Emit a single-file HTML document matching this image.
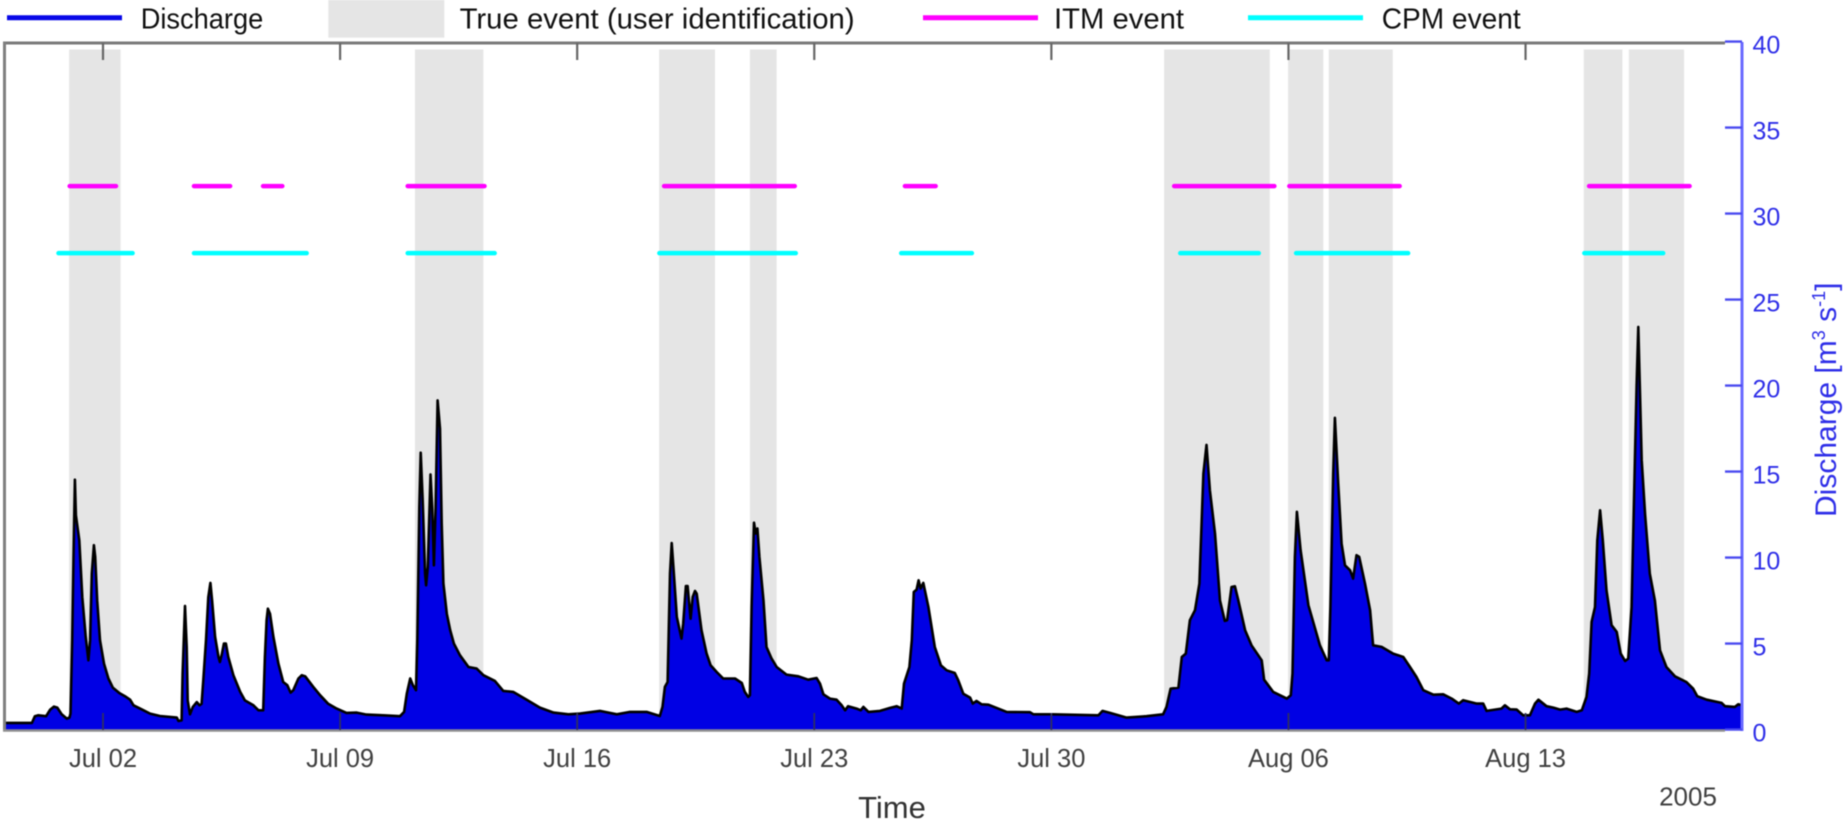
<!DOCTYPE html>
<html lang="en">
<head>
<meta charset="utf-8">
<title>Discharge and event identification, 2005</title>
<style>
html,body{margin:0;padding:0;background:#fff;}
body{width:1843px;height:820px;overflow:hidden;}
svg{display:block;font-family:"Liberation Sans",sans-serif;filter:blur(0.4px);}
</style>
</head>
<body>
<svg id="chart" xmlns="http://www.w3.org/2000/svg" width="1843" height="820" viewBox="0 0 1843 820">
  <g id="bands"></g>
  <path id="area" fill="#0000e4" stroke="none"></path>
  <path id="outline" fill="none" stroke="#000" stroke-width="2.6" stroke-linejoin="round"></path>
  <g id="itm"></g>
  <g id="cpm"></g>

  <line x1="3" y1="43" x2="1725" y2="43" stroke="#7a7a7a" stroke-width="3"></line>
  <line x1="4.5" y1="42" x2="4.5" y2="731" stroke="#808080" stroke-width="3"></line>
  <line x1="3" y1="730.5" x2="1725" y2="730.5" stroke="#8f8f8f" stroke-width="2.5"></line>
  <line x1="1742" y1="42" x2="1742" y2="731" stroke="#6a6aff" stroke-width="3"></line>
  <g id="xticks"></g>
  <g id="yticks"></g>

  <text x="892" y="818" font-size="31" fill="#333" text-anchor="middle">Time</text>
  <text x="1688" y="805.5" font-size="26" fill="#404040" text-anchor="middle">2005</text>
  <text transform="translate(1836,517) rotate(-90)" font-size="30" fill="#2f2fe8">Discharge [m<tspan font-size="18" dy="-11">3</tspan><tspan dy="11"> s</tspan><tspan font-size="18" dy="-11">-1</tspan><tspan dy="11">]</tspan></text>

  <g>
    <line x1="7" y1="17.7" x2="122" y2="17.7" stroke="#0808e8" stroke-width="5"></line>
    <text x="140.7" y="28.5" font-size="29" fill="#111" textLength="122.6" lengthAdjust="spacingAndGlyphs">Discharge</text>
    <rect x="328.3" y="0" width="116" height="37.7" fill="#e5e5e5"></rect>
    <text x="459.6" y="28.5" font-size="29" fill="#111" textLength="395" lengthAdjust="spacingAndGlyphs">True event (user identification)</text>
    <line x1="923" y1="17.7" x2="1038" y2="17.7" stroke="#ff00ff" stroke-width="5"></line>
    <text x="1054" y="28.5" font-size="29" fill="#111" textLength="130" lengthAdjust="spacingAndGlyphs">ITM event</text>
    <line x1="1248" y1="17.7" x2="1363" y2="17.7" stroke="#00ffff" stroke-width="5"></line>
    <text x="1381.7" y="28.5" font-size="29" fill="#111" textLength="139" lengthAdjust="spacingAndGlyphs">CPM event</text>
  </g>
</svg>

<script>
// Time is in days after 1 July 2005 (Jul 02 = 1); discharge is in m3/s.
const xTickDays = [1, 8, 15, 22, 29, 36, 43];
const xTickLabels = ["Jul 02", "Jul 09", "Jul 16", "Jul 23", "Jul 30", "Aug 06", "Aug 13"];
const yTickValues = [0, 5, 10, 15, 20, 25, 30, 35, 40];

const trueEventStarts = [0.00, 10.21, 17.42, 20.10, 32.33, 35.99, 37.19, 44.72, 46.05];
const trueEventEnds = [1.52, 12.23, 19.07, 20.89, 35.45, 37.03, 39.08, 45.86, 47.68];

const itmLevel = 31.6;
const itmStarts = [-0.05, 3.62, 5.66, 9.93, 17.50, 24.61, 32.56, 35.96, 44.81];
const itmEnds = [1.45, 4.82, 6.36, 12.33, 21.49, 25.65, 35.65, 39.35, 47.91];

const cpmLevel = 27.7;
const cpmStarts = [-0.38, 3.62, 9.93, 17.36, 24.50, 32.74, 36.16, 44.67];
const cpmEnds = [1.94, 7.08, 12.63, 21.52, 26.72, 35.19, 39.60, 47.13];

const times = [
-1.90,-1.10,-1.01,-.91,-.68,-.56,-.45,-.35,-.22,-.07,.01,.04,
.09,.13,.17,.20,.30,.39,.49,.57,.62,.67,.73,.77,
.83,.91,1.03,1.16,1.29,1.48,1.65,1.80,1.90,2.14,2.39,2.68,
3.18,3.23,3.32,3.35,3.42,3.47,3.50,3.57,3.65,3.77,3.85,3.91,
3.96,4.04,4.11,4.17,4.22,4.31,4.41,4.45,4.51,4.57,4.63,4.70,
4.85,5.05,5.19,5.44,5.59,5.73,5.78,5.83,5.87,5.93,6.03,6.18,
6.32,6.44,6.54,6.62,6.77,6.87,6.97,7.21,7.41,7.65,7.90,8.19,
8.49,8.78,9.28,9.77,9.89,9.97,10.07,10.15,10.24,10.28,10.34,10.38,
10.44,10.51,10.54,10.59,10.67,10.72,10.77,10.82,10.88,10.95,11.00,11.05,
11.15,11.25,11.36,11.54,11.79,12.03,12.23,12.57,12.82,13.11,13.51,13.90,
14.30,14.74,15.08,15.67,16.17,16.56,17.05,17.44,17.52,17.59,17.67,17.74,
17.79,17.84,17.94,18.08,18.13,18.21,18.26,18.35,18.41,18.48,18.53,18.67,
18.82,18.94,19.12,19.31,19.66,19.86,19.95,20.05,20.10,20.15,20.22,20.27,
20.32,20.38,20.50,20.59,20.74,20.89,21.18,21.53,21.82,22.07,22.17,22.27,
22.46,22.66,22.81,22.91,23.00,23.25,23.37,23.45,23.60,23.94,24.24,24.43,
24.58,24.65,24.81,24.88,24.94,25.02,25.08,25.14,25.22,25.37,25.56,25.74,
25.91,26.15,26.25,26.40,26.60,26.68,26.79,26.94,27.14,27.68,28.37,28.47,
29.01,30.39,30.51,30.73,31.22,31.81,32.30,32.40,32.52,32.75,32.85,32.97,
33.09,33.24,33.37,33.49,33.58,33.68,33.83,33.98,34.12,34.19,34.32,34.42,
34.52,34.72,34.91,35.21,35.28,35.55,35.95,36.07,36.12,36.19,36.25,36.36,
36.59,36.93,37.13,37.19,37.24,37.32,37.37,37.47,37.57,37.67,37.82,37.91,
38.01,38.09,38.26,38.41,38.50,38.75,39.09,39.39,39.59,39.78,39.98,40.28,
40.57,40.82,41.03,41.16,41.56,41.75,41.85,42.29,42.39,42.54,42.74,42.93,
43.13,43.28,43.38,43.62,43.82,44.02,44.21,44.51,44.66,44.80,44.88,44.95,
45.05,45.12,45.20,45.28,45.39,45.54,45.69,45.81,45.94,46.03,46.13,46.23,
46.28,46.33,46.43,46.53,46.67,46.82,46.97,47.16,47.41,47.75,47.95,48.07,
48.35,48.79,48.89,49.18,49.28,49.39
];

const discharge = [
.39,.39,.78,.83,.78,1.16,1.34,1.28,.89,.64,.70,.93,
5.19,10,14.53,12.46,11,7.7,5.4,4.03,5.2,9.07,10.72,10.04,
7.5,5.2,3.84,2.97,2.44,2.13,1.94,1.74,1.41,1.18,.93,.79,
.70,.5,.54,3.26,7.19,4.8,1.7,.89,1.32,1.6,1.41,1.5,
2.87,5.19,7.7,8.53,7.5,5.39,4.22,3.93,4.4,5,5,4.22,
3.16,2.19,1.7,1.41,1.12,1.12,4.2,6.36,7.03,6.74,5.39,3.84,
2.77,2.58,2.15,2.29,2.97,3.16,3.1,2.48,2,1.5,1.22,.97,
.99,.87,.83,.78,1.03,2.09,2.97,2.58,2.29,5.19,12.9,16.1,
13.3,9.07,8.39,9.46,14.84,12.9,9.55,12.9,19.14,17.5,12,8.5,
6.74,5.78,5,4.32,3.64,3.55,3.16,2.83,2.25,2.19,1.74,1.28,
.99,.89,.93,1.09,.89,1.03,1.03,.79,1.32,2.48,2.77,9.07,
10.85,9.46,6.55,5.29,6.16,8.35,8.35,6.45,7.71,8.06,7.9,5.78,
4.42,3.74,3.35,2.97,2.97,2.71,2.19,1.9,2,7.13,12.03,11.4,
11.69,10.04,7.5,4.8,4.13,3.64,3.2,3.1,2.9,3,2.67,2.05,
1.8,1.74,1.41,1.12,1.36,1.22,1.12,1.32,1.03,1.09,1.26,1.36,
1.22,2.67,3.64,5.19,8,8.14,8.68,8.2,8.53,7.13,4.8,3.74,
3.45,3.29,2.87,2.09,1.86,1.51,1.67,1.47,1.45,1.03,1.01,.89,
.89,.83,1.09,.97,.7,.78,.89,1.32,2.38,2.44,4.22,4.42,
6.36,6.94,8.49,14.88,16.55,13.9,11.4,7.5,6.32,6.36,8.29,8.33,
7.52,5.78,4.9,4.03,2.9,2.19,1.8,2,3.26,10.04,12.66,10.43,
7.23,4.9,4.03,4.03,7.13,14.88,18.13,14.3,10.81,9.55,9.26,8.78,
10.14,10.04,8.49,6.94,4.9,4.81,4.42,4.22,3.64,3.06,2.29,2.03,
2.05,1.8,1.51,1.71,1.51,1.51,1.09,1.22,1.41,1.18,1.16,.83,
.83,1.51,1.74,1.36,1.28,1.16,1.22,1.03,1.12,1.9,3.26,6.26,
7.13,11,12.75,11,8.1,6.07,5.68,4.42,3.99,4.13,7.13,15.66,
20,23.41,15.66,12.5,9.07,7.5,4.61,3.64,3.1,2.77,2.38,1.94,
1.74,1.55,1.36,1.32,1.47,1.41
];

const NS = "http://www.w3.org/2000/svg";
const xScale = function (day) { return 103 + (day - 1) * 33.87; };
const yScale = function (q) { return 729.6 - q * 17.2; };
const capInset = 2.25;

function make(tag, parent) {
  const el = document.createElementNS(NS, tag);
  parent.appendChild(el);
  return el;
}

// True-event bands
const bandGroup = document.getElementById("bands");
trueEventStarts.forEach(function (start, i) {
  const r = make("rect", bandGroup);
  
  
  r.setAttribute("x", xScale(start));
  r.setAttribute("y", 49.5);
  r.setAttribute("width", xScale(trueEventEnds[i]) - xScale(start));
  r.setAttribute("height", yScale(0) - 49.5);
  r.setAttribute("fill", "#e5e5e5");
});

// Discharge area and outline
let linePath = "";
times.forEach(function (t, i) {
  linePath += (i ? "L" : "M") + xScale(t).toFixed(1) + " " + yScale(discharge[i]).toFixed(1);
});
const lastTime = times[times.length - 1];
document.getElementById("outline").setAttribute("d", linePath);
document.getElementById("area").setAttribute("d",
  linePath + "L" + xScale(lastTime).toFixed(1) + " " + yScale(0) + "L" + xScale(times[0]).toFixed(1) + " " + yScale(0) + "Z");

// Event bars
const itmGroup = document.getElementById("itm");
itmStarts.forEach(function (start, i) {
  const l = make("line", itmGroup);
  
  
  l.setAttribute("x1", xScale(start) + capInset);
  l.setAttribute("x2", xScale(itmEnds[i]) - capInset);
  l.setAttribute("y1", yScale(itmLevel));
  l.setAttribute("y2", yScale(itmLevel));
  l.setAttribute("stroke", "#ff00ff");
  l.setAttribute("stroke-width", "4.5");
  l.setAttribute("stroke-linecap", "round");
});
const cpmGroup = document.getElementById("cpm");
cpmStarts.forEach(function (start, i) {
  const l = make("line", cpmGroup);
  
  
  l.setAttribute("x1", xScale(start) + capInset);
  l.setAttribute("x2", xScale(cpmEnds[i]) - capInset);
  l.setAttribute("y1", yScale(cpmLevel));
  l.setAttribute("y2", yScale(cpmLevel));
  l.setAttribute("stroke", "#00ffff");
  l.setAttribute("stroke-width", "4.5");
  l.setAttribute("stroke-linecap", "round");
});

// X ticks and labels
const xTickGroup = document.getElementById("xticks");
xTickDays.forEach(function (day, i) {
  const x = xScale(day);
  const top = make("line", xTickGroup);
  
  
  top.setAttribute("x1", x);
  top.setAttribute("x2", x);
  top.setAttribute("y1", 43);
  top.setAttribute("y2", 60);
  top.setAttribute("stroke", "#666");
  top.setAttribute("stroke-width", "2.2");
  const bottom = make("line", xTickGroup);
  
  
  bottom.setAttribute("x1", x);
  bottom.setAttribute("x2", x);
  bottom.setAttribute("y1", 713);
  bottom.setAttribute("y2", 730);
  bottom.setAttribute("stroke", "#303060");
  bottom.setAttribute("stroke-width", "1.8");
  const label = make("text", xTickGroup);
  
  
  label.setAttribute("x", x);
  label.setAttribute("y", 767);
  label.setAttribute("font-size", "25.5");
  label.setAttribute("fill", "#404040");
  label.setAttribute("text-anchor", "middle");
  label.textContent = xTickLabels[i];
});

// Y ticks and labels
const yTickGroup = document.getElementById("yticks");
yTickValues.forEach(function (value) {
  const y = yScale(value);
  const tick = make("line", yTickGroup);
  
  
  tick.setAttribute("x1", 1725);
  tick.setAttribute("x2", 1742);
  tick.setAttribute("y1", y);
  tick.setAttribute("y2", y);
  tick.setAttribute("stroke", "#4a4af0");
  tick.setAttribute("stroke-width", "2.4");
  const label = make("text", yTickGroup);
  
  
  label.setAttribute("x", 1752.5);
  label.setAttribute("y", y + 12);
  label.setAttribute("font-size", "25");
  label.setAttribute("fill", "#2f2fe8");
  label.textContent = value;
});
</script>
</body>
</html>
